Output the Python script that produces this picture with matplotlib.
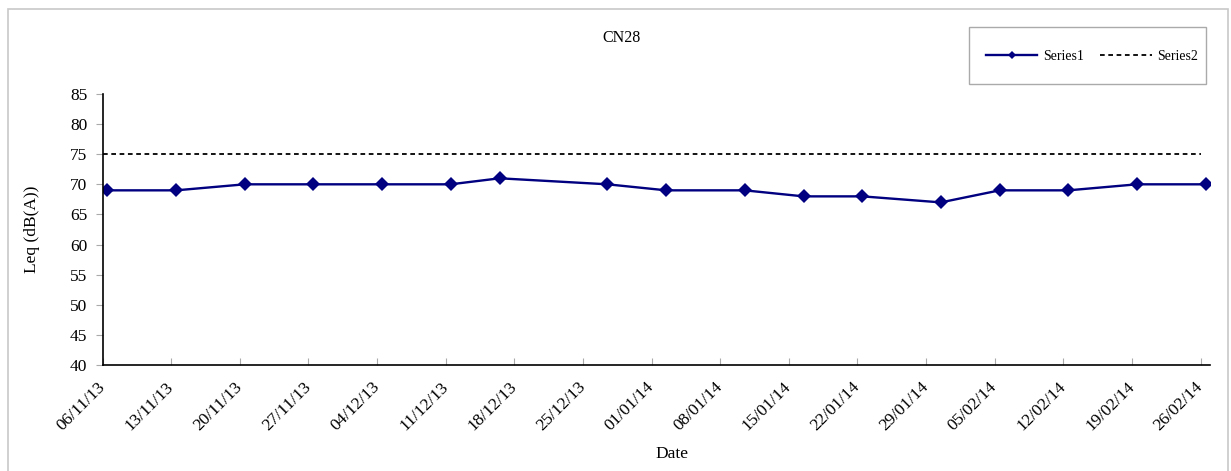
import matplotlib
matplotlib.use("Agg")
import matplotlib.pyplot as plt
import matplotlib.dates as mdates
from matplotlib.patches import Rectangle
import pandas as pd

# measurement dates (readings taken around midday)
dates1 = ["2013-11-06 12:00", "2013-11-13 12:00", "2013-11-20 12:00", "2013-11-27 12:00",
          "2013-12-04 12:00", "2013-12-11 12:00", "2013-12-16 12:00", "2013-12-27 12:00",
          "2014-01-02 12:00", "2014-01-10 12:00", "2014-01-16 12:00", "2014-01-22 12:00",
          "2014-01-30 12:00", "2014-02-05 12:00", "2014-02-12 12:00", "2014-02-19 12:00",
          "2014-02-26 12:00"]
series1 = [69, 69, 70, 70, 70, 70, 71, 70, 69, 69, 68, 68, 67, 69, 69, 70, 70]

# limit line
dates2 = ["2013-11-06", "2014-02-26"]
series2 = [75, 75]

x_start = "2013-11-06"
x_end = "2014-02-27"

plt.rcParams['font.family'] = ['Liberation Serif', 'DejaVu Serif']

fig = plt.figure(figsize=(12.31, 4.71), dpi=100)
ax = fig.add_axes([0.0833, 0.225, 0.9, 0.5755])

ax.plot(pd.to_datetime(dates1), series1, color="#000080", lw=1.7,
        marker="D", ms=7.2, mew=0, label="Series1")
ax.plot(pd.to_datetime(dates2), series2, color="black", lw=1.3,
        dashes=(2.6, 2.0), label="Series2")

ax.set_xlim(pd.Timestamp(x_start), pd.Timestamp(x_end))
ax.set_ylim(40, 85)
ax.set_yticks(range(40, 86, 5))

ax.xaxis.set_major_locator(mdates.WeekdayLocator(byweekday=mdates.WE))
ax.xaxis.set_major_formatter(mdates.DateFormatter("%d/%m/%y"))

for s in ["top", "right"]:
    ax.spines[s].set_visible(False)
ax.spines["left"].set_linewidth(1.2)
ax.spines["bottom"].set_linewidth(1.2)

ax.tick_params(axis="x", direction="in", length=5, color="#aaaaaa", pad=14, labelsize=12.5)
ax.tick_params(axis="y", direction="out", length=5, color="#aaaaaa", pad=6, labelsize=12.5)
for lab in ax.get_xticklabels():
    lab.set_rotation(45)
    lab.set_ha("right")
    lab.set_va("center")
    lab.set_rotation_mode("anchor")

ax.set_ylabel("Leq (dB(A))", fontsize=12.5)
ax.yaxis.set_label_coords(-0.0564, 0.5)
ax.set_xlabel("Date", fontsize=12.5)
ax.xaxis.set_label_coords(0.514, -0.3)
fig.text(0.5045, 0.92, "CN28", fontsize=11.5, ha="center", va="center")

leg = fig.legend(loc="center left", bbox_to_anchor=(986 / 1231, 1 - 56 / 471), ncol=2,
                 fontsize=10, frameon=False, numpoints=1,
                 markerscale=0.55, handlelength=3.7, handletextpad=0.4,
                 columnspacing=1.2, borderpad=0, borderaxespad=0)

# legend box and outer chart border
fig.add_artist(Rectangle((969 / 1231, 1 - 84 / 471), 237 / 1231, 57 / 471,
                         transform=fig.transFigure, fill=False,
                         edgecolor="#aaaaaa", lw=1.0))
fig.add_artist(Rectangle((8 / 1231, -0.05), 1220 / 1231, 1.05 - 9 / 471,
                         transform=fig.transFigure, fill=False,
                         edgecolor="#c8c8c8", lw=1.2))

fig.savefig("out.png", dpi=100)
